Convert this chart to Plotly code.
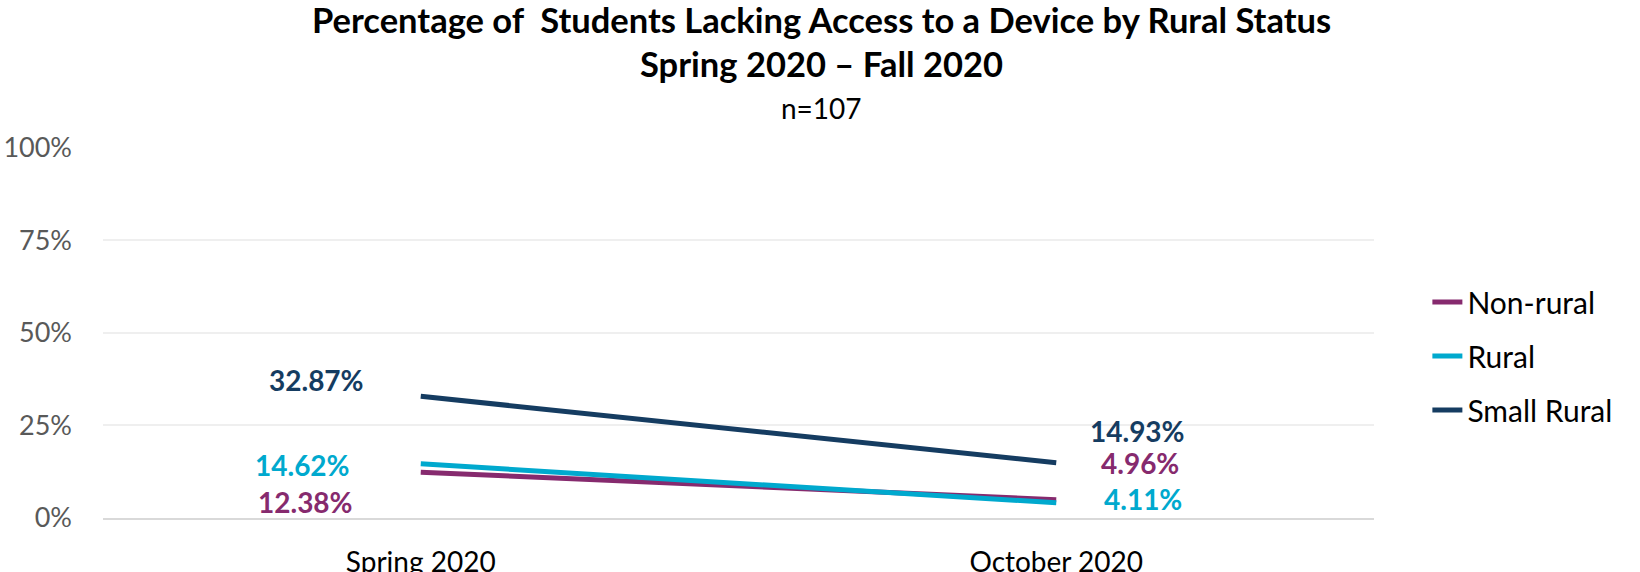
import plotly.graph_objects as go

categories = ["Spring 2020", "October 2020"]
series_names = ["Non-rural", "Rural", "Small Rural"]
non_rural = [12.38, 4.96]
rural = [14.62, 4.11]
small_rural = [32.87, 14.93]
colors = ["#862A6E", "#00A9CE", "#153C61"]
y_ticks = [0, 25, 50, 75, 100]
y_tick_labels = ["0%", "25%", "50%", "75%", "100%"]
title_lines = [
    "Percentage of  Students Lacking Access to a Device by Rural Status",
    "Spring 2020 – Fall 2020",
]
subtitle = "n=107"

values = [non_rural, rural, small_rural]
# label offsets (px) per series per category
label_shift = {
    "Non-rural": [(-115, -30), (84, 37)],
    "Rural": [(-118, -1), (87, 4)],
    "Small Rural": [(-104, 16), (81, 32)],
}

FONT = "Lato"
TITLE_X = (821 - 103) / 1271  # page centre expressed in plot-area fraction

fig = go.Figure()
for name, vals, col in zip(series_names, values, colors):
    fig.add_trace(go.Scatter(
        x=categories, y=vals, name=name, mode="lines",
        line=dict(color=col, width=5), legendgroup=name,
    ))
    for i, (c, v) in enumerate(zip(categories, vals)):
        dx, dy = label_shift[name][i]
        fig.add_annotation(
            x=c, y=v, xref="x", yref="y", text=f"<b>{v:.2f}%</b>",
            showarrow=False, xshift=dx, yshift=dy,
            font=dict(family=FONT, size=28, color=col),
        )

# title lines as annotations (paper coords, above the plot)
for txt, yy in zip(title_lines, [1.345, 1.226]):
    fig.add_annotation(
        x=TITLE_X, xref="paper", y=yy, yref="paper", xanchor="center", yanchor="middle",
        text=f"<b>{txt}</b>", showarrow=False,
        font=dict(family=FONT, size=34.5, color="black"),
    )
fig.add_annotation(
    x=TITLE_X, xref="paper", y=1.106, yref="paper", xanchor="center", yanchor="middle",
    text=subtitle, showarrow=False, font=dict(family=FONT, size=28, color="black"),
)

fig.update_layout(
    width=1640, height=572,
    margin=dict(l=103, r=266, t=147, b=54, autoexpand=False),
    paper_bgcolor="white", plot_bgcolor="white",
    font=dict(family=FONT),
    showlegend=True,
    legend=dict(
        x=1.042, xanchor="left", y=0.652, yanchor="top",
        font=dict(family=FONT, size=30, color="black"),
        tracegroupgap=12, bgcolor="rgba(0,0,0,0)",
    ),
)
fig.update_xaxes(
    type="category", range=[-0.5, 1.5], showgrid=False, automargin=False,
    showline=True, linecolor="#D9D9D9", linewidth=2,
    ticks="", tickfont=dict(family=FONT, size=28, color="black"),
    ticklabelstandoff=18,
)
fig.update_yaxes(
    range=[0, 100.2], tickvals=y_ticks, ticktext=y_tick_labels, automargin=False,
    showgrid=True, gridcolor="#EFEFEF", gridwidth=2, zeroline=False,
    tickfont=dict(family=FONT, size=27, color="#595959"),
    ticklabelstandoff=30,
)

fig.write_html(
    "out.html",
    config={"displayModeBar": False},
    post_script="document.body.style.margin='0';document.body.style.overflow='hidden';",
)
